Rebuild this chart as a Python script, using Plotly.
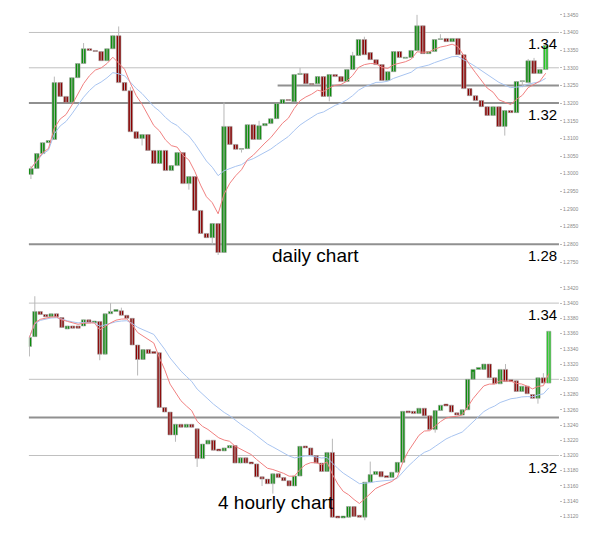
import pandas as pd
import plotly.graph_objects as go

# daily candles (open, close)
d_open = [1.2998, 1.3015, 1.3057, 1.3088, 1.3097, 1.3258, 1.3219, 1.3202, 1.3272, 1.3312,
          1.3354, 1.3349, 1.3346, 1.3320, 1.3354, 1.3391, 1.3258, 1.3235, 1.3119, 1.3100,
          1.3111, 1.3066, 1.3029, 1.3066, 1.3009, 1.3023, 1.3060, 1.2972, 1.2992, 1.2896,
          1.2831, 1.2819, 1.2859, 1.2777, 1.3134, 1.3083, 1.3069, 1.3071, 1.3139, 1.3097,
          1.3136, 1.3142, 1.3156, 1.3199, 1.3210, 1.3204, 1.3281, 1.3284, 1.3255, 1.3255,
          1.3275, 1.3219, 1.3281, 1.3275, 1.3261, 1.3295, 1.3335, 1.3380, 1.3343, 1.3323,
          1.3309, 1.3264, 1.3289, 1.3346, 1.3327, 1.3329, 1.3349, 1.3419, 1.3340, 1.3346,
          1.3380, 1.3383, 1.3374, 1.3383, 1.3337, 1.3241, 1.3221, 1.3207, 1.3190, 1.3165,
          1.3190, 1.3134, 1.3179, 1.3173, 1.3261, 1.3258, 1.3320, 1.3284, 1.3295]
d_close = [1.3015, 1.3057, 1.3088, 1.3094, 1.3258, 1.3219, 1.3202, 1.3272, 1.3312, 1.3354,
           1.3349, 1.3346, 1.3320, 1.3354, 1.3391, 1.3258, 1.3235, 1.3119, 1.3100, 1.3111,
           1.3066, 1.3029, 1.3066, 1.3009, 1.3023, 1.3060, 1.2972, 1.2992, 1.2896, 1.2831,
           1.2819, 1.2859, 1.2777, 1.3134, 1.3083, 1.3069, 1.3071, 1.3139, 1.3097, 1.3136,
           1.3142, 1.3156, 1.3199, 1.3210, 1.3207, 1.3281, 1.3284, 1.3255, 1.3253, 1.3275,
           1.3219, 1.3281, 1.3275, 1.3261, 1.3295, 1.3335, 1.3380, 1.3337, 1.3323, 1.3309,
           1.3264, 1.3289, 1.3346, 1.3329, 1.3330, 1.3349, 1.3419, 1.3340, 1.3346, 1.3380,
           1.3381, 1.3374, 1.3383, 1.3337, 1.3241, 1.3221, 1.3207, 1.3190, 1.3165, 1.3190,
           1.3134, 1.3179, 1.3173, 1.3261, 1.3263, 1.3320, 1.3284, 1.3295, 1.3363]
# wicks that stick out past the body (index: price)
d_high_wicks = {0: 1.3022, 4: 1.3275, 9: 1.3370, 15: 1.3417, 17: 1.3245, 33: 1.3202,
                39: 1.3150, 46: 1.3300, 55: 1.3345, 57: 1.3388, 66: 1.3451, 70: 1.3395,
                85: 1.3325, 86: 1.3328}
d_low_wicks = {0: 1.2985, 19: 1.3080, 27: 1.2955, 31: 1.2800, 32: 1.2770, 36: 1.3060,
               51: 1.3205, 81: 1.3108, 84: 1.3245}

# 4 hourly candles (open, close)
h_open = [1.3343, 1.3356, 1.3389, 1.3385, 1.3382, 1.3386, 1.3381, 1.3366, 1.3370, 1.3370,
          1.3370, 1.3378, 1.3374, 1.3376, 1.3333, 1.3386, 1.3389, 1.3390, 1.3384, 1.3380,
          1.3345, 1.3326, 1.3339, 1.3335, 1.3335, 1.3263, 1.3257, 1.3227, 1.3241, 1.3237,
          1.3241, 1.3235, 1.3196, 1.3215, 1.3220, 1.3207, 1.3206, 1.3210, 1.3213, 1.3190,
          1.3197, 1.3190, 1.3189, 1.3172, 1.3169, 1.3163, 1.3176, 1.3171, 1.3167, 1.3160,
          1.3173, 1.3212, 1.3210, 1.3200, 1.3190, 1.3179, 1.3204, 1.3119, 1.3118, 1.3119,
          1.3133, 1.3120, 1.3119, 1.3165, 1.3175, 1.3179, 1.3172, 1.3171, 1.3178, 1.3191,
          1.3258, 1.3258, 1.3255, 1.3262, 1.3252, 1.3234, 1.3259, 1.3266, 1.3266, 1.3256,
          1.3253, 1.3260, 1.3300, 1.3313, 1.3313, 1.3320, 1.3302, 1.3294, 1.3313, 1.3298,
          1.3298, 1.3284, 1.3291, 1.3280, 1.3275, 1.3302, 1.3295]
h_close = [1.3355, 1.3389, 1.3385, 1.3382, 1.3386, 1.3382, 1.3368, 1.3370, 1.3367, 1.3367,
           1.3378, 1.3374, 1.3376, 1.3333, 1.3386, 1.3389, 1.3390, 1.3384, 1.3380, 1.3345,
           1.3326, 1.3339, 1.3334, 1.3334, 1.3263, 1.3257, 1.3227, 1.3241, 1.3237, 1.3241,
           1.3237, 1.3196, 1.3215, 1.3220, 1.3207, 1.3206, 1.3210, 1.3213, 1.3190, 1.3197,
           1.3190, 1.3189, 1.3172, 1.3169, 1.3163, 1.3176, 1.3171, 1.3167, 1.3160, 1.3173,
           1.3212, 1.3210, 1.3200, 1.3190, 1.3179, 1.3204, 1.3119, 1.3118, 1.3119, 1.3133,
           1.3120, 1.3119, 1.3165, 1.3175, 1.3179, 1.3172, 1.3171, 1.3178, 1.3191, 1.3258,
           1.3256, 1.3255, 1.3262, 1.3252, 1.3234, 1.3259, 1.3266, 1.3265, 1.3257, 1.3253,
           1.3260, 1.3300, 1.3313, 1.3313, 1.3320, 1.3302, 1.3294, 1.3313, 1.3297, 1.3297,
           1.3284, 1.3291, 1.3281, 1.3275, 1.3302, 1.3295, 1.3363]
h_high_wicks = {1: 1.3409, 15: 1.3400, 17: 1.3394, 56: 1.3222, 63: 1.3192, 82: 1.3310,
                88: 1.3320, 95: 1.3308}
h_low_wicks = {0: 1.3330, 13: 1.3325, 20: 1.3305, 27: 1.3218, 31: 1.3185, 43: 1.3160,
               45: 1.3150, 62: 1.3108, 75: 1.3230, 94: 1.3268}

d_ticks = [1.2750 + 0.005 * k for k in range(15)]
h_ticks = [1.3120 + 0.002 * k for k in range(16)]

GREEN, RED, LAST_GREEN = "#0b8c0b", "#8c0000", "#22cc22"
W, H = 592, 541


# the page is shown slightly shrunk and offset, so map target pixels to layout pixels
def px(x):
    return (x - 7.5) / 0.981 / W


def py(y):
    return 1 - (y - 11.2) / 0.988 / H


def add_panel(fig, opens, closes, highs, lows, xa, ya):
    n = len(opens)
    x = list(range(n))
    wx, wy = [], []
    for i, (o, c) in enumerate(zip(opens, closes)):
        hi = highs.get(i, max(o, c))
        lo = lows.get(i, min(o, c))
        wx += [i, i, None]
        wy += [lo, hi, None]
    fig.add_trace(go.Scatter(x=wx, y=wy, mode="lines", line=dict(color="#b8b8b8", width=1),
                             xaxis=xa, yaxis=ya, showlegend=False, hoverinfo="skip"))
    colors = [GREEN if c >= o else RED for o, c in zip(opens, closes)]
    colors[-1] = LAST_GREEN
    fig.add_trace(go.Bar(
        x=x, base=[min(o, c) for o, c in zip(opens, closes)],
        y=[max(abs(c - o), 0.00025) for o, c in zip(opens, closes)],
        width=0.78, marker=dict(color=colors, line=dict(color="#a0a0a0", width=0.6)),
        xaxis=xa, yaxis=ya, showlegend=False, hoverinfo="skip"))
    s = pd.Series(closes)
    fig.add_trace(go.Scatter(x=x, y=s.ewm(span=20).mean(), mode="lines",
                             line=dict(color="#a8c4f0", width=1),
                             xaxis=xa, yaxis=ya, showlegend=False))
    fig.add_trace(go.Scatter(x=x, y=s.ewm(span=8).mean(), mode="lines",
                             line=dict(color="#f08080", width=1),
                             xaxis=xa, yaxis=ya, showlegend=False))


fig = go.Figure()
add_panel(fig, d_open, d_close, d_high_wicks, d_low_wicks, "x", "y")
add_panel(fig, h_open, h_close, h_high_wicks, h_low_wicks, "x2", "y2")

nd, nh = len(d_open), len(h_open)
sd = (535 - 30) / (nd - 1)
sh = (538 - 28) / (nh - 1)

axis_common = dict(showgrid=False, zeroline=False, fixedrange=True)
tickfont = dict(size=5, color="#888888", family="Arial")
fig.update_layout(
    width=W, height=H, margin=dict(l=0, r=0, t=0, b=0),
    paper_bgcolor="white", plot_bgcolor="white", barmode="overlay",
    xaxis=dict(domain=[px(28), px(548)], range=[-2 / sd, nd - 1 + 13 / sd], visible=False,
               **axis_common),
    xaxis2=dict(domain=[px(28), px(548)], range=[-0.5 / sh, nh - 1 + 10 / sh], visible=False,
                anchor="y2", **axis_common),
    yaxis=dict(domain=[py(262), py(15)], range=[1.2750, 1.3450], side="right",
               tickvals=d_ticks, ticktext=[f"{v:.4f}" for v in d_ticks], tickfont=tickfont,
               ticks="outside", ticklen=2, tickcolor="#bbbbbb", **axis_common),
    yaxis2=dict(domain=[py(520), py(284)], range=[1.3115, 1.3425], side="right",
                anchor="x2", tickvals=h_ticks, ticktext=[f"{v:.4f}" for v in h_ticks],
                tickfont=tickfont, ticks="outside", ticklen=2, tickcolor="#bbbbbb",
                **axis_common),
)


# horizontal reference lines
def hline(ya, xa, y, color, width=1, start=0.0):
    fig.add_shape(type="line", xref=f"{xa} domain", yref=ya, x0=start, x1=1, y0=y, y1=y,
                  line=dict(color=color, width=width), layer="below")


hline("y", "x", 1.34, "#c0c0c0")
hline("y", "x", 1.33, "#c0c0c0")
hline("y", "x", 1.325, "#909090", 2, start=(272 - 28) / 520)
hline("y", "x", 1.32, "#909090", 2)
hline("y", "x", 1.28, "#909090", 2)
hline("y2", "x2", 1.34, "#c0c0c0")
hline("y2", "x2", 1.33, "#c0c0c0")
hline("y2", "x2", 1.325, "#909090", 2)
hline("y2", "x2", 1.32, "#c0c0c0")

big = dict(family="Arial", size=15, color="black")
for ya, y, txt in [("y", 1.34, "1.34"), ("y", 1.32, "1.32"), ("y", 1.28, "1.28"),
                   ("y2", 1.34, "1.34"), ("y2", 1.32, "1.32")]:
    fig.add_annotation(xref="x domain" if ya == "y" else "x2 domain", yref=ya, x=1, y=y,
                       text=txt, showarrow=False, xanchor="right", yanchor="top",
                       font=big, yshift=-1)

fig.add_annotation(xref="paper", yref="paper", x=px(309), y=py(255), text="daily chart",
                   showarrow=False, font=dict(family="Arial", size=19, color="black"))
fig.add_annotation(xref="paper", yref="paper", x=px(270), y=py(515), text="4 hourly chart",
                   showarrow=False, font=dict(family="Arial", size=19, color="black"))

fig.write_html("out.html")
